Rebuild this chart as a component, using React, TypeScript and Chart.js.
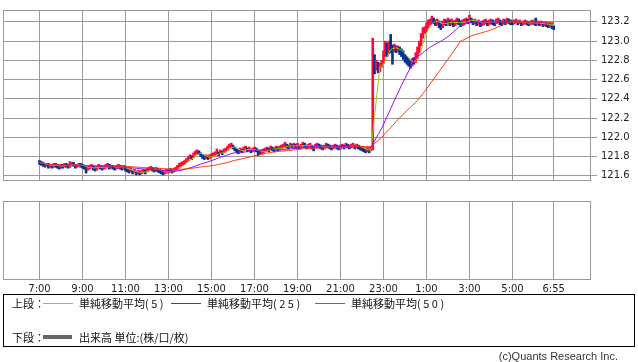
import React, { useEffect, useRef } from "react";
import { Chart, registerables } from "chart.js";
Chart.register(...registerables);

// 5-minute bars, 7:00 -> 6:55 (next day)
const firstOpen = 121.75;
const closes = [
  121.74, 121.73, 121.72, 121.71, 121.72, 121.70, 121.71, 121.70, 121.72, 121.71, 121.70, 121.69, 121.71, 121.70, 121.72, 121.71, 121.70, 121.72, 121.73, 121.71, 121.70, 121.71, 121.72, 121.71,
  121.70, 121.69, 121.67, 121.68, 121.69, 121.70, 121.68, 121.67, 121.69, 121.70, 121.69, 121.68, 121.69, 121.70, 121.71, 121.69, 121.70, 121.69, 121.68, 121.69, 121.70, 121.69, 121.68, 121.69,
  121.67, 121.66, 121.65, 121.66, 121.64, 121.65, 121.63, 121.64, 121.63, 121.64, 121.65, 121.64, 121.66, 121.67, 121.68, 121.67, 121.66, 121.67, 121.66, 121.65, 121.64, 121.63, 121.64, 121.65,
  121.65, 121.66, 121.65, 121.66, 121.67, 121.69, 121.71, 121.72, 121.73, 121.74, 121.76, 121.78, 121.80, 121.79, 121.82, 121.84, 121.85, 121.84, 121.82, 121.80, 121.79, 121.80, 121.79, 121.80,
  121.81, 121.82, 121.83, 121.84, 121.83, 121.85, 121.84, 121.86, 121.87, 121.89, 121.91, 121.92, 121.90, 121.88, 121.86, 121.85, 121.87, 121.86, 121.88, 121.89, 121.87, 121.88, 121.86, 121.87,
  121.88, 121.87, 121.85, 121.84, 121.85, 121.86, 121.87, 121.88, 121.87, 121.89, 121.88, 121.87, 121.89, 121.88, 121.89, 121.90, 121.91, 121.92, 121.91, 121.90, 121.92, 121.91, 121.92, 121.91,
  121.92, 121.90, 121.91, 121.93, 121.92, 121.90, 121.91, 121.92, 121.90, 121.89, 121.91, 121.92, 121.91, 121.90, 121.89, 121.90, 121.92, 121.91, 121.90, 121.89, 121.90, 121.91, 121.90, 121.89,
  121.90, 121.91, 121.90, 121.92, 121.91, 121.90, 121.91, 121.92, 121.90, 121.91, 121.90, 121.89, 121.88, 121.87, 121.86, 121.87, 121.86, 121.88,
  122.75, 122.72, 122.76, 122.70, 122.74, 122.78, 122.85, 122.92, 122.88, 122.96, 122.94, 122.92, 122.93, 122.91, 122.92, 122.90, 122.88, 122.85, 122.82, 122.80, 122.78, 122.76, 122.80, 122.79, 122.84, 122.90,
  122.97, 123.05, 123.10, 123.12, 123.16, 123.19, 123.20, 123.22, 123.21, 123.19, 123.20, 123.18, 123.16, 123.18, 123.20, 123.19, 123.21, 123.19, 123.20, 123.18, 123.19, 123.21, 123.20, 123.18, 123.19, 123.20,
  123.22, 123.21, 123.23, 123.22, 123.20, 123.21, 123.19, 123.20, 123.18, 123.19, 123.20, 123.21, 123.19, 123.20, 123.21, 123.20, 123.19, 123.21, 123.22, 123.20, 123.19, 123.21, 123.20, 123.22, 123.21, 123.20,
  123.19, 123.20, 123.21, 123.19, 123.20, 123.18, 123.19, 123.20, 123.19, 123.18, 123.19, 123.20, 123.19, 123.18, 123.19, 123.18, 123.19, 123.17, 123.18, 123.17, 123.16, 123.17, 123.15, 123.14,
];
const highs = [
  121.76, 121.75, 121.74, 121.73, 121.73, 121.73, 121.72, 121.72, 121.73, 121.73, 121.72, 121.71, 121.72, 121.72, 121.73, 121.73, 121.72, 121.75, 121.74, 121.74, 121.72, 121.72, 121.73, 121.73,
  121.72, 121.71, 121.70, 121.70, 121.71, 121.72, 121.71, 121.69, 121.70, 121.72, 121.71, 121.70, 121.71, 121.72, 121.73, 121.72, 121.71, 121.71, 121.70, 121.71, 121.72, 121.71, 121.70, 121.71,
  121.70, 121.68, 121.67, 121.68, 121.66, 121.67, 121.65, 121.66, 121.65, 121.66, 121.67, 121.66, 121.68, 121.69, 121.70, 121.69, 121.68, 121.69, 121.68, 121.67, 121.66, 121.65, 121.66, 121.67,
  121.67, 121.68, 121.67, 121.68, 121.69, 121.71, 121.73, 121.74, 121.75, 121.76, 121.78, 121.80, 121.82, 121.81, 121.84, 121.86, 121.87, 121.86, 121.84, 121.82, 121.81, 121.82, 121.81, 121.82,
  121.83, 121.84, 121.85, 121.88, 121.85, 121.87, 121.86, 121.88, 121.89, 121.91, 121.93, 121.94, 121.92, 121.90, 121.88, 121.87, 121.89, 121.88, 121.90, 121.91, 121.89, 121.90, 121.88, 121.89,
  121.90, 121.89, 121.87, 121.86, 121.87, 121.88, 121.89, 121.90, 121.89, 121.91, 121.90, 121.89, 121.91, 121.90, 121.91, 121.92, 121.93, 121.95, 121.93, 121.92, 121.94, 121.93, 121.94, 121.93,
  121.94, 121.92, 121.93, 121.95, 121.94, 121.92, 121.93, 121.94, 121.92, 121.91, 121.93, 121.94, 121.93, 121.92, 121.91, 121.92, 121.94, 121.93, 121.92, 121.91, 121.92, 121.93, 121.92, 121.91,
  121.92, 121.93, 121.92, 121.94, 121.93, 121.92, 121.93, 121.94, 121.92, 121.93, 121.92, 121.91, 121.90, 121.89, 121.88, 121.89, 121.88, 121.90,
  123.03, 122.86, 122.80, 122.78, 122.77, 122.80, 122.90, 123.00, 122.98, 123.00, 123.07, 122.96, 122.97, 122.95, 122.95, 122.94, 122.92, 122.90, 122.86, 122.84, 122.82, 122.80, 122.82, 122.83, 122.88, 122.94,
  123.00, 123.08, 123.14, 123.15, 123.19, 123.22, 123.23, 123.26, 123.24, 123.22, 123.23, 123.21, 123.19, 123.21, 123.23, 123.22, 123.24, 123.22, 123.23, 123.21, 123.22, 123.24, 123.23, 123.21, 123.22, 123.23,
  123.24, 123.23, 123.27, 123.24, 123.22, 123.23, 123.21, 123.22, 123.20, 123.21, 123.22, 123.23, 123.21, 123.22, 123.23, 123.22, 123.21, 123.23, 123.24, 123.22, 123.21, 123.23, 123.22, 123.24, 123.23, 123.22,
  123.21, 123.22, 123.23, 123.21, 123.22, 123.20, 123.21, 123.22, 123.21, 123.20, 123.21, 123.22, 123.21, 123.24, 123.21, 123.20, 123.21, 123.19, 123.20, 123.19, 123.18, 123.19, 123.17, 123.16,
];
const lows = [
  121.72, 121.71, 121.70, 121.69, 121.70, 121.68, 121.69, 121.68, 121.69, 121.69, 121.68, 121.67, 121.68, 121.68, 121.69, 121.69, 121.68, 121.69, 121.71, 121.70, 121.68, 121.69, 121.70, 121.69,
  121.68, 121.67, 121.63, 121.66, 121.67, 121.68, 121.66, 121.65, 121.66, 121.68, 121.67, 121.66, 121.67, 121.68, 121.69, 121.67, 121.68, 121.67, 121.66, 121.67, 121.68, 121.67, 121.66, 121.67,
  121.65, 121.64, 121.63, 121.64, 121.62, 121.63, 121.61, 121.62, 121.61, 121.62, 121.63, 121.62, 121.64, 121.65, 121.66, 121.65, 121.64, 121.65, 121.64, 121.63, 121.62, 121.61, 121.62, 121.63,
  121.63, 121.64, 121.63, 121.64, 121.65, 121.67, 121.69, 121.70, 121.71, 121.72, 121.74, 121.76, 121.78, 121.77, 121.80, 121.82, 121.83, 121.82, 121.80, 121.78, 121.77, 121.78, 121.77, 121.78,
  121.79, 121.80, 121.81, 121.82, 121.81, 121.83, 121.82, 121.84, 121.85, 121.87, 121.89, 121.90, 121.88, 121.86, 121.84, 121.83, 121.85, 121.84, 121.86, 121.87, 121.85, 121.86, 121.84, 121.85,
  121.86, 121.85, 121.81, 121.82, 121.83, 121.84, 121.85, 121.86, 121.85, 121.87, 121.86, 121.85, 121.87, 121.86, 121.87, 121.88, 121.89, 121.90, 121.89, 121.88, 121.90, 121.89, 121.90, 121.89,
  121.90, 121.88, 121.89, 121.91, 121.90, 121.88, 121.89, 121.90, 121.88, 121.86, 121.89, 121.90, 121.89, 121.88, 121.87, 121.88, 121.90, 121.89, 121.88, 121.87, 121.88, 121.89, 121.88, 121.87,
  121.88, 121.89, 121.88, 121.90, 121.89, 121.88, 121.89, 121.90, 121.88, 121.89, 121.88, 121.87, 121.86, 121.85, 121.84, 121.85, 121.84, 121.86,
  121.87, 122.66, 122.70, 122.67, 122.68, 122.73, 122.77, 122.84, 122.84, 122.87, 122.88, 122.76, 122.89, 122.88, 122.89, 122.86, 122.84, 122.81, 122.78, 122.76, 122.74, 122.72, 122.74, 122.76, 122.78, 122.82,
  122.88, 122.95, 123.03, 123.08, 123.10, 123.14, 123.17, 123.18, 123.18, 123.16, 123.17, 123.14, 123.12, 123.14, 123.17, 123.16, 123.18, 123.16, 123.17, 123.15, 123.16, 123.18, 123.17, 123.15, 123.16, 123.17,
  123.19, 123.18, 123.20, 123.19, 123.17, 123.18, 123.16, 123.17, 123.15, 123.16, 123.17, 123.18, 123.16, 123.17, 123.18, 123.17, 123.16, 123.18, 123.19, 123.17, 123.16, 123.18, 123.17, 123.19, 123.18, 123.17,
  123.17, 123.18, 123.19, 123.17, 123.18, 123.16, 123.17, 123.18, 123.17, 123.16, 123.17, 123.18, 123.17, 123.16, 123.17, 123.16, 123.17, 123.15, 123.16, 123.15, 123.14, 123.15, 123.13, 123.12,
];

const tickLabels = ["7:00", "9:00", "11:00", "13:00", "15:00", "17:00", "19:00", "21:00", "23:00", "1:00", "3:00", "5:00", "6:55"];
const yTicks = [121.6, 121.8, 122.0, 122.2, 122.4, 122.6, 122.8, 123.0, 123.2];
const maPeriods = [5, 25, 50];
const maColors = ["#99cc00", "#9900ff", "#ff3300"];
const maNames = ["単純移動平均", "単純移動平均", "単純移動平均"];
const upColor = "#ff0a3c";
const downColor = "#003399";
const gridColor = "#999999";

const times = closes.map((_, i) => {
  const m = 7 * 60 + 5 * i;
  return `${Math.floor(m / 60) % 24}:${String(m % 60).padStart(2, "0")}`;
});
const tickIdx = tickLabels.map((t) => times.indexOf(t));

function sma(values: number[], n: number) {
  return values.map((_, i) => {
    const s = Math.max(0, i - n + 1);
    let sum = 0;
    for (let k = s; k <= i; k++) sum += values[k];
    return sum / (i - s + 1);
  });
}

const X_MIN = -20.37;
const X_MAX = 307.81;

const framePlugin = {
  id: "frame",
  beforeDatasetsDraw(chart: any) {
    const { ctx, chartArea: a } = chart;
    ctx.save();
    ctx.strokeStyle = gridColor;
    ctx.lineWidth = 1;
    ctx.strokeRect(a.left + 0.5, a.top + 0.5, a.right - a.left - 1, a.bottom - a.top - 1);
    ctx.restore();
  },
};

function xScale(showLabels: boolean, height: number) {
  return {
    type: "linear",
    min: X_MIN,
    max: X_MAX,
    offset: false,
    afterBuildTicks: (s: any) => {
      s.ticks = tickIdx.map((v) => ({ value: v }));
    },
    ticks: showLabels
      ? {
          font: { family: "DejaVu Sans", size: 10 },
          color: "#222",
          padding: 3,
          maxRotation: 0,
          autoSkip: false,
          callback: (v: any) => times[Number(v)],
        }
      : { display: false },
    grid: { color: gridColor, drawTicks: false, offset: false },
    border: { display: false },
    afterFit: (s: any) => {
      s.height = height;
    },
  };
}

function TopChart() {
  const ref = useRef<HTMLCanvasElement>(null);
  useEffect(() => {
    const opens = closes.map((c, i) => (i === 0 ? firstOpen : closes[i - 1]));
    const barData = closes.map((c, i) => ({
      x: i,
      y: [Math.min(lows[i], opens[i], c), Math.max(highs[i], opens[i], c)],
    }));
    const barColors = closes.map((c, i) => (c >= opens[i] ? upColor : downColor));
    const lineSets = maPeriods.map((p, k) => ({
      type: "line" as const,
      data: sma(closes, p).map((v, i) => ({ x: i, y: v })),
      borderColor: maColors[k],
      borderWidth: 1,
      pointRadius: 0,
      tension: 0,
      order: 3 - k,
    }));
    const chart = new Chart(ref.current!, {
      type: "bar",
      data: {
        datasets: [
          {
            type: "bar",
            data: barData as any,
            backgroundColor: barColors,
            borderWidth: 0,
            barThickness: 2,
            order: 10,
          } as any,
          ...lineSets,
        ],
      },
      options: {
        animation: false,
        responsive: false,
        maintainAspectRatio: false,
        layout: { padding: { left: 3, right: 0, top: 0, bottom: 0 } },
        plugins: { legend: { display: false }, tooltip: { enabled: false } },
        scales: {
          x: xScale(false, 0),
          y: {
            position: "right",
            min: 121.547,
            max: 123.3237,
            afterBuildTicks: (s: any) => {
              s.ticks = yTicks.map((v) => ({ value: v }));
            },
            ticks: {
              font: { family: "DejaVu Sans", size: 10 },
              color: "#222",
              padding: 4,
              callback: (v: any) => Number(v).toFixed(1),
            },
            grid: { color: gridColor, tickLength: 6 },
            border: { display: false },
            afterFit: (s: any) => {
              s.width = 47;
            },
          },
        },
      } as any,
      plugins: [framePlugin],
    });
    return () => chart.destroy();
  }, []);
  return (
    <canvas
      ref={ref}
      width={638}
      height={191}
      style={{ position: "absolute", left: 0, top: 0, width: 638, height: 191 }}
    />
  );
}

function BottomChart() {
  const ref = useRef<HTMLCanvasElement>(null);
  useEffect(() => {
    const chart = new Chart(ref.current!, {
      type: "bar",
      data: { datasets: [{ data: [], backgroundColor: "#666" }] },
      options: {
        animation: false,
        responsive: false,
        maintainAspectRatio: false,
        layout: { padding: { left: 3, right: 47, top: 0, bottom: 0 } },
        plugins: { legend: { display: false }, tooltip: { enabled: false } },
        scales: {
          x: xScale(true, 21),
          y: { display: false, min: 0, max: 1 },
        },
      } as any,
      plugins: [framePlugin],
    });
    return () => chart.destroy();
  }, []);
  return (
    <canvas
      ref={ref}
      width={638}
      height={100}
      style={{ position: "absolute", left: 0, top: 201, width: 638, height: 100 }}
    />
  );
}

const legendFont = "'Noto Sans CJK JP', sans-serif";

function Legend() {
  const txt = (left: number, top: number, s: React.ReactNode) => (
    <span
      style={{
        position: "absolute",
        left,
        top,
        fontSize: 11,
        lineHeight: "14px",
        fontFamily: legendFont,
        color: "#111",
        whiteSpace: "nowrap",
      }}
    >
      {s}
    </span>
  );
  const line = (left: number, top: number, w: number, h: number, c: string) => (
    <div style={{ position: "absolute", left, top, width: w, height: h, background: c }} />
  );
  const lineLefts = [43, 171, 315];
  return (
    <div
      style={{
        position: "absolute",
        left: 3,
        top: 294,
        width: 632,
        height: 53,
        border: "1px solid #000",
        boxSizing: "border-box",
      }}
    >
      {txt(8, 1, "上段：")}
      {maNames.map((n, k) => (
        <React.Fragment key={k}>
          {line(lineLefts[k] - 4, 8, 30, 1, maColors[k])}
          {txt(
            lineLefts[k] + 32,
            1,
            <>
              {n}
              <span style={{ letterSpacing: "2.5px" }}>({maPeriods[k]})</span>
            </>
          )}
        </React.Fragment>
      ))}
      {txt(8, 35, "下段：")}
      {line(39, 40, 29, 4, "#666")}
      {txt(75, 35, "出来高 単位:(株/口/枚)")}
    </div>
  );
}

export default function App() {
  return (
    <div
      style={{
        position: "absolute",
        left: 0,
        top: 0,
        width: 638,
        height: 362,
        background: "#fff",
        overflow: "hidden",
      }}
    >
      <TopChart />
      <BottomChart />
      <Legend />
      <span
        style={{
          position: "absolute",
          right: 20,
          top: 349,
          fontSize: 11,
          lineHeight: "14px",
          fontFamily: "'Liberation Sans', sans-serif",
          color: "#333",
          whiteSpace: "nowrap",
        }}
      >
        (c)Quants Research Inc.
      </span>
    </div>
  );
}
